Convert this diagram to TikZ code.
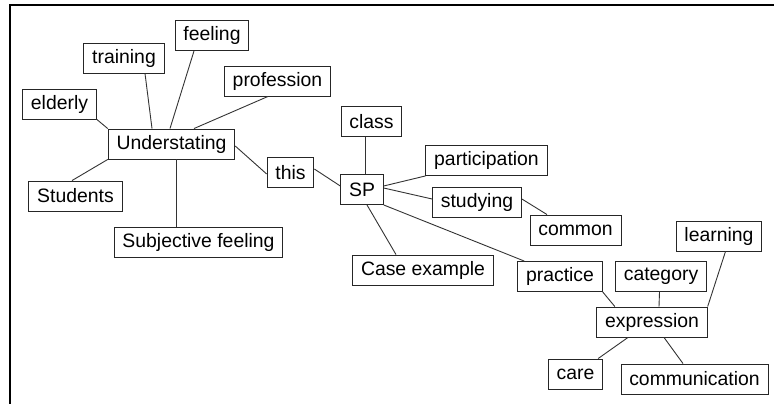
\documentclass[tikz,border=0pt]{standalone}
\usepackage{fontspec}
\setmainfont{Liberation Sans}
\begin{document}
\begin{tikzpicture}[x=1pt,y=-1pt,
  word/.style={draw=black!85, line width=0.9pt, fill=white, inner xsep=8.3pt, inner ysep=0pt, minimum height=30pt, font=\fontsize{19.4}{23}\selectfont},
  link/.style={draw=black!80, line width=0.9pt}]
\useasboundingbox (0,0) rectangle (774,404);
\draw[line width=2.5pt] (10,404) -- (10,5) -- (774,5);

\node[word] (feel) at (212,35.5) {feeling};
\node[word] (train) at (124,58) {training};
\node[word] (prof) at (277.5,81) {profession};
\node[word] (elderly) at (59.5,104) {elderly};
\node[word] (und) at (171.5,144) {Understating};
\node[word] (stud) at (75.5,196) {Students};
\node[word] (subj) at (198.5,242) {Subjective feeling};
\node[word] (this) at (290.5,172.5) {this};
\node[word] (class) at (371.5,121.5) {class};
\node[word] (sp) at (362,189.5) {SP};
\node[word] (part) at (486.5,160.5) {participation};
\node[word] (study) at (477,202) {studying};
\node[word] (common) at (575.5,230) {common};
\node[word] (case) at (423,270) {Case example};
\node[word] (learn) at (719,236) {learning};
\node[word] (prac) at (560,276.5) {practice};
\node[word] (cat) at (661,276.5) {category};
\node[word] (expr) at (652,322) {expression};
\node[word] (care) at (575.5,374) {care};
\node[word] (comm) at (694.5,379) {communication};

\draw[link] (elderly.south east) -- (und.north west);
\draw[link] ([xshift=21pt]train.south) -- ([xshift=-19.5pt]und.north);
\draw[link] ([xshift=-18pt]feel.south) -- ([xshift=-1.5pt]und.north);
\draw[link] ([xshift=-9.5pt]prof.south) -- ([xshift=22.5pt]und.north);
\draw[link] (und.south west) -- ([xshift=-3.5pt]stud.north);
\draw[link] ([xshift=4.5pt]und.south) -- ([xshift=-22.5pt]subj.north);
\draw[link] ([yshift=-2pt]und.east) -- ([yshift=-1.5pt]this.west);
\draw[link] ([yshift=3.5pt]this.east) -- ([yshift=3.5pt]sp.west);
\draw[link] ([xshift=-6.5pt]class.south) -- ([xshift=3pt]sp.north);
\draw[link] ([yshift=3.5pt]sp.east) -- (part.south west);
\draw[link] ([yshift=1.5pt]sp.east) -- ([yshift=3pt]study.west);
\draw[link] ([yshift=3pt]study.east) -- ([xshift=-28.5pt]common.north);
\draw[link] ([xshift=5pt]sp.south) -- ([xshift=-27pt]case.north);
\draw[link] (sp.south east) -- ([xshift=7pt]prac.north west);
\draw[link] (prac.south east) -- ([xshift=18.5pt]expr.north west);
\draw[link] ([xshift=-1.5pt]cat.south) -- ([xshift=7pt]expr.north);
\draw[link] ([xshift=6.5pt]learn.south) -- (expr.north east);
\draw[link] ([xshift=-24pt]expr.south) -- ([xshift=-5pt]care.north east);
\draw[link] ([xshift=12pt]expr.south) -- ([xshift=-11.5pt]comm.north);
\end{tikzpicture}
\end{document}
